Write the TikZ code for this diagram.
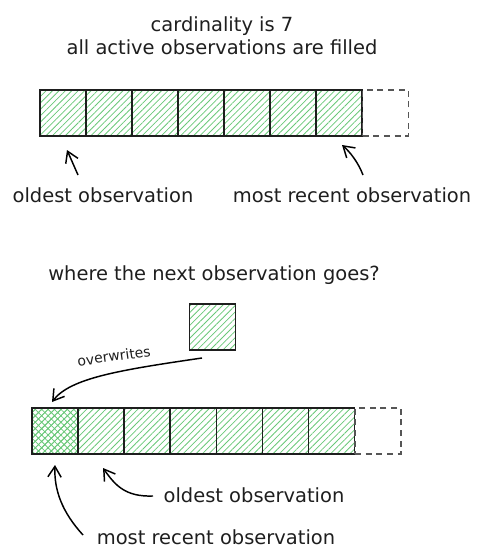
\documentclass[tikz,border=0pt]{standalone}
\usepackage{fontspec}
\setmainfont{DejaVu Sans}
\usepackage{tikz}
\usetikzlibrary{arrows.meta,patterns.meta}
\definecolor{hatch}{RGB}{105,200,120}
\definecolor{ink}{RGB}{30,30,30}
\newcommand{\arw}{-{Straight Barb[length=8pt,width=10pt]}}

\begin{document}
\begin{tikzpicture}[x=.75pt,y=-.75pt,line width=1.1pt,
  cell/.style={draw=ink,minimum size=34.5pt,inner sep=0pt,
    pattern={Lines[angle=45,distance=3.4pt,line width=.6pt]},pattern color=hatch},
  newest/.style={cell,pattern={Hatch[angle=45,distance=3.4pt,line width=.6pt]}},
  freecell/.style={draw=ink!75,dashed,dash pattern=on 4.5pt off 3.5pt,minimum size=34.5pt,inner sep=0pt},
  txt/.style={font=\fontsize{14.6}{17}\selectfont,text=ink},
  small/.style={font=\fontsize{10.5}{12}\selectfont,text=ink}]
\useasboundingbox (0,0) rectangle (482,560);
%all slots filled
\node[txt,align=center] (title) at (222,36) {cardinality is 7\\all active observations are filled};
\foreach \i in {1,...,7}
  \node[cell] (t\i) at ({63+46*(\i-1)},113) {};
\node[freecell] (tfree) at (385.5,113) {};
\node[txt] (toldest) at (103,195) {oldest observation};
\node[txt] (trecent) at (352,195) {most recent observation};
\coordinate (ta) at (78,175);
\coordinate (tb) at (67,150);
\coordinate (tc) at (363,175);
\coordinate (td) at (342,145);
\draw[\arw] (ta) -- (tb);
\draw[\arw] (tc) .. controls (358,162) and (350,152) .. (td);
%next observation
\node[txt] (question) at (214,275) {where the next observation goes?};
\node[cell] (next) at (212.5,327) {};
\foreach \i in {1,...,7}
  \node[cell] (b\i) at ({55+46.1*(\i-1)},431) {};
\node[newest] (b1) at (55,431) {};
\node[freecell] (bfree) at (378,431) {};
\node[small,rotate=8] (over) at (114,356) {overwrites};
\node[txt] (boldest) at (254,495) {oldest observation};
\node[txt] (brecent) at (216,537) {most recent observation};
\coordinate (ba) at (202,358);
\coordinate (bb) at (52,402);
\coordinate (bc) at (153,496);
\coordinate (bd) at (103,468);
\coordinate (be) at (83,535);
\coordinate (bf) at (55,465);
\draw[\arw] (ba) .. controls (120,370) and (70,378) .. (bb);
\draw[\arw] (bc) .. controls (125,497) and (115,485) .. (bd);
\draw[\arw] (be) .. controls (62,512) and (54,490) .. (bf);
\end{tikzpicture}
\end{document}
